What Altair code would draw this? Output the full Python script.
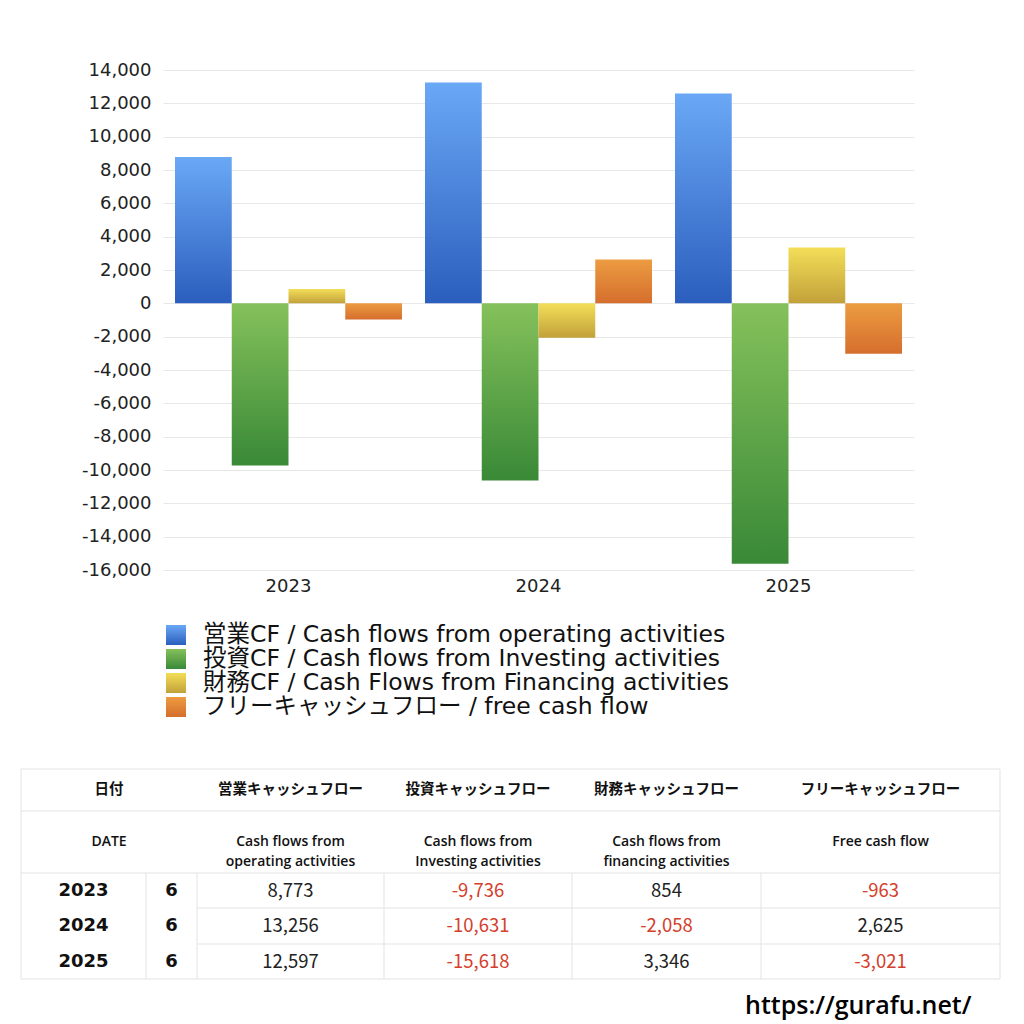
import altair as alt
import pandas as pd

# chart values
years = ["2023", "2024", "2025"]
months = ["6", "6", "6"]
series_keys = ["op", "inv", "fin", "free"]
series_labels = [
    "営業CF / Cash flows from operating activities",
    "投資CF / Cash flows from Investing activities",
    "財務CF / Cash Flows from Financing activities",
    "フリーキャッシュフロー / free cash flow",
]
operating = [8773, 13256, 12597]
investing = [-9736, -10631, -15618]
financing = [854, -2058, 3346]
free_cf = [-963, 2625, -3021]
y_ticks = list(range(-16000, 14001, 2000))

header_jp = ["日付", "営業キャッシュフロー", "投資キャッシュフロー", "財務キャッシュフロー", "フリーキャッシュフロー"]
header_en = ["DATE", "Cash flows from\noperating activities", "Cash flows from\nInvesting activities",
             "Cash flows from\nfinancing activities", "Free cash flow"]

# gradient colours (top, bottom)
grad = {
    "op": ("#6aa8f6", "#2b5ebd"),
    "inv": ("#85c15b", "#398937"),
    "fin": ("#f3de58", "#c2a13a"),
    "free": ("#ec9c41", "#d56e2d"),
}
JP = "Noto Sans CJK JP"
SANS = "Open Sans, Noto Sans CJK JP"
DIGITS = "DejaVu Sans"
LEFT = 142  # table starts this far left of the bar plot


def gradient(key):
    top, bottom = grad[key]
    return alt.LinearGradient(
        gradient="linear",
        stops=[alt.GradientStop(color=top, offset=0), alt.GradientStop(color=bottom, offset=1)],
        x1=0, x2=0, y1=0, y2=1,
    )


values = {"op": operating, "inv": investing, "fin": financing, "free": free_cf}
bars = pd.DataFrame(
    [{"year": y, "s": k, "value": values[k][i]} for k in series_keys for i, y in enumerate(years)]
)

# %% main bar chart
layers = []
for k in series_keys:
    layers.append(
        alt.Chart(bars)
        .transform_filter(alt.datum.s == k)
        .mark_bar(color=gradient(k))
        .encode(
            x=alt.X("year:N", sort=years,
                    scale=alt.Scale(paddingInner=0.092, paddingOuter=0.048),
                    axis=alt.Axis(title=None, labelAngle=0, labelFontSize=18, labelPadding=7,
                                  labelColor="#222", domain=False, ticks=False, labelFont=DIGITS)),
            xOffset=alt.XOffset("s:N", scale=alt.Scale(domain=series_keys, paddingInner=0, paddingOuter=0)),
            y=alt.Y("value:Q",
                    scale=alt.Scale(domain=[-16000, 14000], nice=False, zero=False),
                    axis=alt.Axis(title=None, values=y_ticks,
                                  labelExpr="replace(format(datum.value, ',.0f'), '\u2212', '-')",
                                  labelFontSize=18, labelColor="#222", labelPadding=12,
                                  domain=False, ticks=False, grid=True, gridColor="#e8e8e8",
                                  labelFont=DIGITS)),
        )
    )
main = alt.layer(*layers).properties(width=751, height=500)

# %% legend
leg_df = pd.DataFrame({"s": series_keys, "label": series_labels})
leg_y = alt.Y("s:N", sort=series_keys, axis=None, scale=alt.Scale(paddingInner=0, paddingOuter=0))
leg_layers = []
for k in series_keys:
    leg_layers.append(
        alt.Chart(leg_df).transform_filter(alt.datum.s == k)
        .mark_square(size=400, color=gradient(k), opacity=1)
        .encode(x=alt.value(13), y=leg_y)
    )
leg_layers.append(
    alt.Chart(leg_df).mark_text(align="left", baseline="middle", fontSize=23.5,
                                font="DejaVu Sans, Noto Sans CJK JP", color="#111")
    .encode(x=alt.value(40), y=leg_y, text="label:N")
)
legend = alt.layer(*leg_layers).properties(width=751, height=96)

# %% table (layout in pixels of the table panel)
col_edges = [0, 125, 176, 363, 551, 740, 979]
row_edges = [22, 64, 126, 161, 197, 232]
col_mid = [(col_edges[i] + col_edges[i + 1]) / 2 for i in range(len(col_edges) - 1)]
row_mid = [(row_edges[i] + row_edges[i + 1]) / 2 for i in range(len(row_edges) - 1)]
span_mid = (col_edges[0] + col_edges[2]) / 2

cells = []
for j, t in enumerate(header_jp):
    cells.append({"x": span_mid if j == 0 else col_mid[j + 1], "y": row_mid[0], "t": t, "kind": "hjp"})
for j, t in enumerate(header_en):
    cells.append({"x": span_mid if j == 0 else col_mid[j + 1], "y": row_mid[1], "t": t, "kind": "hen"})
for i, y in enumerate(years):
    cells.append({"x": col_mid[0], "y": row_mid[2 + i], "t": y, "kind": "bold"})
    cells.append({"x": col_mid[1], "y": row_mid[2 + i], "t": months[i], "kind": "bold"})
    for j, k in enumerate(series_keys):
        v = values[k][i]
        cells.append({"x": col_mid[2 + j], "y": row_mid[2 + i], "t": f"{v:,}",
                      "kind": "neg" if v < 0 else "num"})
cells = pd.DataFrame(cells)

W, H = 979, 232
lines = []
for yv in [22, 64, 126, 232]:
    lines.append({"x": 0, "x2": W, "y": yv, "y2": yv})
for yv in [161, 197]:
    lines.append({"x": 176, "x2": W, "y": yv, "y2": yv})
for xv in [0, W]:
    lines.append({"x": xv, "x2": xv, "y": 22, "y2": 232})
for xv in col_edges[1:-1]:
    lines.append({"x": xv, "x2": xv, "y": 126, "y2": 232})
lines = pd.DataFrame(lines)

tx = alt.X("x:Q", scale=alt.Scale(domain=[0, W], range=[-LEFT, W - LEFT]), axis=None)
ty = alt.Y("y:Q", scale=alt.Scale(domain=[H, 0]), axis=None)
tx2 = alt.X2("x2:Q")
ty2 = alt.Y2("y2:Q")

rules = alt.Chart(lines).mark_rule(color="#e3e3e3", strokeWidth=1).encode(x=tx, x2=tx2, y=ty, y2=ty2)


def cell_text(kind, **kw):
    return (
        alt.Chart(cells).transform_filter(alt.datum.kind == kind)
        .mark_text(baseline="middle", align="center", lineBreak="\n", **kw)
        .encode(x=tx, y=ty, text="t:N")
    )


table = alt.layer(
    rules,
    cell_text("hjp", font=JP, fontSize=14.5, fontWeight="bold", color="#111"),
    cell_text("hen", font=SANS, fontSize=14, fontWeight=600, color="#111", lineHeight=20),
    cell_text("bold", font=DIGITS, fontSize=18, fontWeight="bold", color="#111"),
    cell_text("num", font=JP, fontSize=18.5, color="#222"),
    cell_text("neg", font=JP, fontSize=18.5, color="#d4402c"),
).properties(width=W - LEFT, height=H)

chart = (
    alt.vconcat(main, legend, table, spacing=28)
    .properties(
        padding={"left": 12, "top": 53, "right": 8, "bottom": 8},
        title=alt.TitleParams("https://gurafu.net/", orient="bottom", anchor="end", fontSize=25,
                              fontWeight=600, font="Open Sans", color="#000", dx=-29, offset=14),
    )
    .configure_view(stroke=None)
    .configure_concat(spacing=28)
)

chart.save("out.html", embed_options={"renderer": "svg", "actions": False})
